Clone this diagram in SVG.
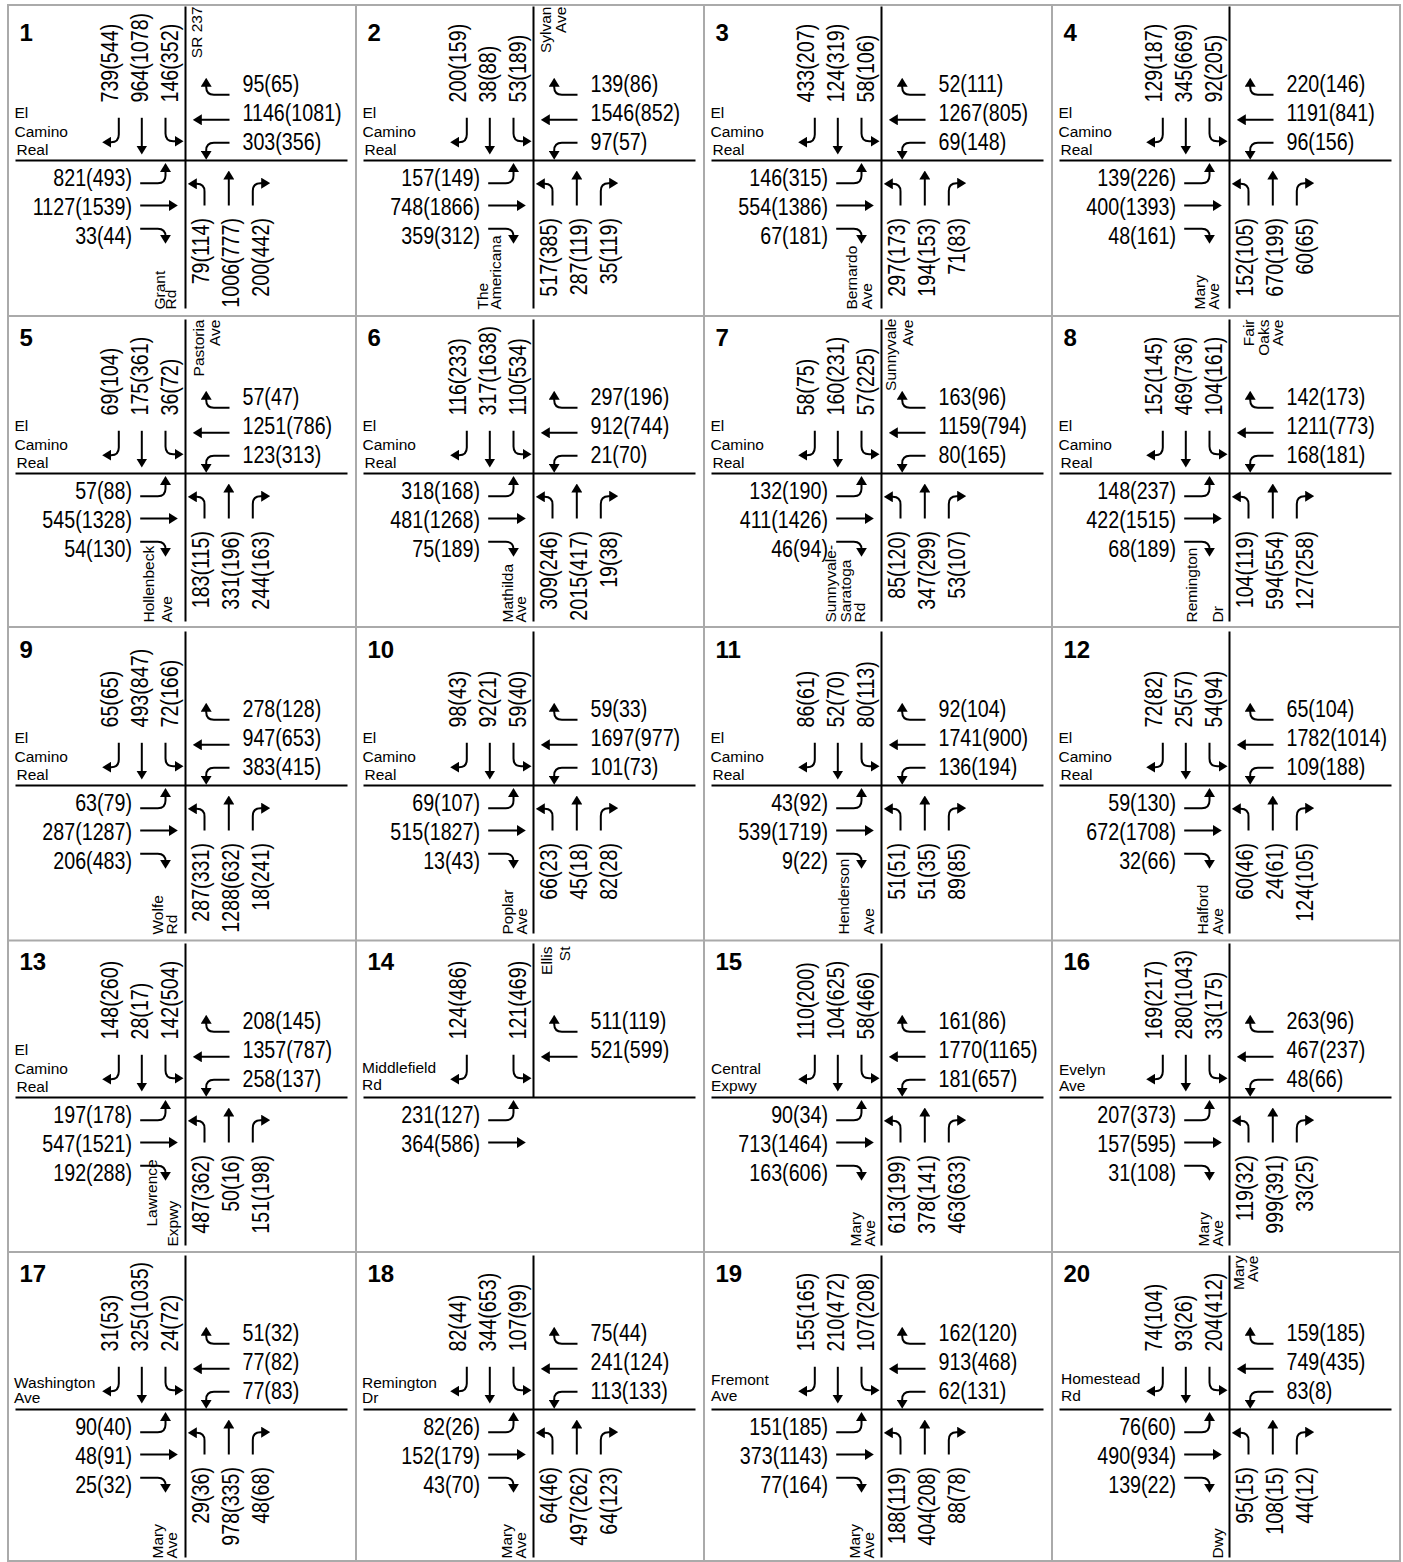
<svg xmlns="http://www.w3.org/2000/svg" width="1403" height="1562" viewBox="0 0 1403 1562">
<style>
text{font-family:"Liberation Sans",Arial,sans-serif;fill:#000}
.q{font-size:24px}
.e{text-anchor:end}
.s{font-size:15.5px}
.n{font-size:24px;font-weight:bold}
.r{fill:none;stroke:#000;stroke-width:2}
.a{fill:none;stroke:#000;stroke-width:2;marker-end:url(#ah)}
.g{fill:none;stroke:#aaa;stroke-width:2}
</style>
<defs>
<marker id="ah" viewBox="0 0 9 11" refX="6" refY="5.5" markerWidth="9" markerHeight="11" markerUnits="userSpaceOnUse" orient="auto"><path d="M0,0L9,5.5L0,11z" fill="#000"/></marker>
<g id="full">
<path class="r" d="M0,-154V148M-170,0H162"/>
<path id="sR" class="a" d="M-66.7,-42.7V-26Q-66.7,-18.3-74.4,-18.3H-80.3"/>
<path id="sT" class="a" d="M-43.7,-42.7V-9"/>
<path id="sL" class="a" d="M-20,-42.7V-27Q-20,-19.3-12.3,-19.3H-5"/>
<path id="wR" class="a" d="M44,-65.7H28.4Q20.7,-65.7 20.7,-73.4V-79.7"/>
<path id="wT" class="a" d="M44,-40.7H10.3"/>
<path id="wL" class="a" d="M44,-17.7H28.4Q20.7,-17.7 20.7,-10V-3.7"/>
<path id="eL" class="a" d="M-45.3,22.7H-27.7Q-20,22.7-20,15V5.5"/>
<path id="eT" class="a" d="M-45.3,45H-10.7"/>
<path id="eR" class="a" d="M-45.3,68.3H-27.7Q-20,68.3-20,76V80.3"/>
<path id="nL" class="a" d="M19,45V31Q19,23.3 11.3,23.3H5.3"/>
<path id="nT" class="a" d="M43.3,45V13"/>
<path id="nR" class="a" d="M67.3,45V30.4Q67.3,22.7 75,22.7H81.7"/>
</g>
<g id="ecr" class="s"><text x="-171" y="-42.5">El</text><text x="-171" y="-24">Camino</text><text x="-169" y="-5.5">Real</text></g>
</defs>
<path class="g" d="M8,5H1400V1561H8ZM356,5V1561M704,5V1561M1052,5V1561M8,316H1400M8,627H1400M8,940.5H1400M8,1252H1400"/>

<g id="p1" transform="translate(185.5,160.5)"><use href="#full"/><use href="#ecr"/><text class="n" x="-166" y="-120">1</text>
<g class="q" transform="rotate(-90) scale(.82,1)"><text x="70.7" y="-67.5">739(544)</text><text x="70.7" y="-37.5">964(1078)</text><text x="70.7" y="-8">146(352)</text><text class="e" x="-70.1" y="23.7">79(114)</text><text class="e" x="-70.1" y="54">1006(777)</text><text class="e" x="-70.1" y="83.3">200(442)</text></g>
<g class="q" transform="scale(.82,1)"><text x="69.5" y="-68.5">95(65)</text><text x="69.5" y="-39.5">1146(1081)</text><text x="69.5" y="-10.5">303(356)</text><text class="e" x="-65.2" y="26">821(493)</text><text class="e" x="-65.2" y="55">1127(1539)</text><text class="e" x="-65.2" y="84">33(44)</text></g>
<g class="s" transform="rotate(-90)"><text class="e" x="154" y="16.2">SR 237</text><text x="-149" y="-20.5">Grant</text><text x="-149" y="-10">Rd</text></g></g>

<g id="p2" transform="translate(533.5,160.5)"><use href="#full"/><use href="#ecr"/><text class="n" x="-166" y="-120">2</text>
<g class="q" transform="rotate(-90) scale(.82,1)"><text x="70.7" y="-67.5">200(159)</text><text x="70.7" y="-37.5">38(88)</text><text x="70.7" y="-8">53(189)</text><text class="e" x="-70.1" y="23.7">517(385)</text><text class="e" x="-70.1" y="54">287(119)</text><text class="e" x="-70.1" y="83.3">35(119)</text></g>
<g class="q" transform="scale(.82,1)"><text x="69.5" y="-68.5">139(86)</text><text x="69.5" y="-39.5">1546(852)</text><text x="69.5" y="-10.5">97(57)</text><text class="e" x="-65.2" y="26">157(149)</text><text class="e" x="-65.2" y="55">748(1866)</text><text class="e" x="-65.2" y="84">359(312)</text></g>
<g class="s" transform="rotate(-90)"><text class="e" x="154" y="17">Sylvan</text><text class="e" x="154" y="32">Ave</text><text x="-149" y="-46">The</text><text x="-149" y="-32.5">Americana</text></g></g>

<g id="p3" transform="translate(881.5,160.5)"><use href="#full"/><use href="#ecr"/><text class="n" x="-166" y="-120">3</text>
<g class="q" transform="rotate(-90) scale(.82,1)"><text x="70.7" y="-67.5">433(207)</text><text x="70.7" y="-37.5">124(319)</text><text x="70.7" y="-8">58(106)</text><text class="e" x="-70.1" y="23.7">297(173)</text><text class="e" x="-70.1" y="54">194(153)</text><text class="e" x="-70.1" y="83.3">71(83)</text></g>
<g class="q" transform="scale(.82,1)"><text x="69.5" y="-68.5">52(111)</text><text x="69.5" y="-39.5">1267(805)</text><text x="69.5" y="-10.5">69(148)</text><text class="e" x="-65.2" y="26">146(315)</text><text class="e" x="-65.2" y="55">554(1386)</text><text class="e" x="-65.2" y="84">67(181)</text></g>
<g class="s" transform="rotate(-90)"><text x="-149" y="-24.5">Bernardo</text><text x="-149" y="-9.5">Ave</text></g></g>

<g id="p4" transform="translate(1229.5,160.5)"><use href="#full"/><use href="#ecr"/><text class="n" x="-166" y="-120">4</text>
<g class="q" transform="rotate(-90) scale(.82,1)"><text x="70.7" y="-67.5">129(187)</text><text x="70.7" y="-37.5">345(669)</text><text x="70.7" y="-8">92(205)</text><text class="e" x="-70.1" y="23.7">152(105)</text><text class="e" x="-70.1" y="54">670(199)</text><text class="e" x="-70.1" y="83.3">60(65)</text></g>
<g class="q" transform="scale(.82,1)"><text x="69.5" y="-68.5">220(146)</text><text x="69.5" y="-39.5">1191(841)</text><text x="69.5" y="-10.5">96(156)</text><text class="e" x="-65.2" y="26">139(226)</text><text class="e" x="-65.2" y="55">400(1393)</text><text class="e" x="-65.2" y="84">48(161)</text></g>
<g class="s" transform="rotate(-90)"><text x="-149" y="-24.5">Mary</text><text x="-149" y="-10.5">Ave</text></g></g>

<g id="p5" transform="translate(185.5,473.5)"><use href="#full"/><use href="#ecr"/><text class="n" x="-166" y="-128">5</text>
<g class="q" transform="rotate(-90) scale(.82,1)"><text x="70.7" y="-67.5">69(104)</text><text x="70.7" y="-37.5">175(361)</text><text x="70.7" y="-8">36(72)</text><text class="e" x="-70.1" y="23.7">183(115)</text><text class="e" x="-70.1" y="54">331(196)</text><text class="e" x="-70.1" y="83.3">244(163)</text></g>
<g class="q" transform="scale(.82,1)"><text x="69.5" y="-68.5">57(47)</text><text x="69.5" y="-39.5">1251(786)</text><text x="69.5" y="-10.5">123(313)</text><text class="e" x="-65.2" y="26">57(88)</text><text class="e" x="-65.2" y="55">545(1328)</text><text class="e" x="-65.2" y="84">54(130)</text></g>
<g class="s" transform="rotate(-90)"><text class="e" x="154" y="18.5">Pastoria</text><text class="e" x="154" y="34">Ave</text><text x="-149" y="-31.5">Hollenbeck</text><text x="-149" y="-13.5">Ave</text></g></g>

<g id="p6" transform="translate(533.5,473.5)"><use href="#full"/><use href="#ecr"/><text class="n" x="-166" y="-128">6</text>
<g class="q" transform="rotate(-90) scale(.82,1)"><text x="70.7" y="-67.5">116(233)</text><text x="70.7" y="-37.5">317(1638)</text><text x="70.7" y="-8">110(534)</text><text class="e" x="-70.1" y="23.7">309(246)</text><text class="e" x="-70.1" y="54">2015(417)</text><text class="e" x="-70.1" y="83.3">19(38)</text></g>
<g class="q" transform="scale(.82,1)"><text x="69.5" y="-68.5">297(196)</text><text x="69.5" y="-39.5">912(744)</text><text x="69.5" y="-10.5">21(70)</text><text class="e" x="-65.2" y="26">318(168)</text><text class="e" x="-65.2" y="55">481(1268)</text><text class="e" x="-65.2" y="84">75(189)</text></g>
<g class="s" transform="rotate(-90)"><text x="-149" y="-20.5">Mathilda</text><text x="-149" y="-7.5">Ave</text></g></g>

<g id="p7" transform="translate(881.5,473.5)"><use href="#full"/><use href="#ecr"/><text class="n" x="-166" y="-128">7</text>
<g class="q" transform="rotate(-90) scale(.82,1)"><text x="70.7" y="-67.5">58(75)</text><text x="70.7" y="-37.5">160(231)</text><text x="70.7" y="-8">57(225)</text><text class="e" x="-70.1" y="23.7">85(120)</text><text class="e" x="-70.1" y="54">347(299)</text><text class="e" x="-70.1" y="83.3">53(107)</text></g>
<g class="q" transform="scale(.82,1)"><text x="69.5" y="-68.5">163(96)</text><text x="69.5" y="-39.5">1159(794)</text><text x="69.5" y="-10.5">80(165)</text><text class="e" x="-65.2" y="26">132(190)</text><text class="e" x="-65.2" y="55">411(1426)</text><text class="e" x="-65.2" y="84">46(94)</text></g>
<g class="s" transform="rotate(-90)"><text class="e" x="155" y="14.5">Sunnyvale</text><text class="e" x="154" y="31.5">Ave</text><text x="-149" y="-45.5">Sunnyvale-</text><text x="-149" y="-30.5">Saratoga</text><text x="-149" y="-16.5">Rd</text></g></g>

<g id="p8" transform="translate(1229.5,473.5)"><use href="#full"/><use href="#ecr"/><text class="n" x="-166" y="-128">8</text>
<g class="q" transform="rotate(-90) scale(.82,1)"><text x="70.7" y="-67.5">152(145)</text><text x="70.7" y="-37.5">469(736)</text><text x="70.7" y="-8">104(161)</text><text class="e" x="-70.1" y="23.7">104(119)</text><text class="e" x="-70.1" y="54">594(554)</text><text class="e" x="-70.1" y="83.3">127(258)</text></g>
<g class="q" transform="scale(.82,1)"><text x="69.5" y="-68.5">142(173)</text><text x="69.5" y="-39.5">1211(773)</text><text x="69.5" y="-10.5">168(181)</text><text class="e" x="-65.2" y="26">148(237)</text><text class="e" x="-65.2" y="55">422(1515)</text><text class="e" x="-65.2" y="84">68(189)</text></g>
<g class="s" transform="rotate(-90)"><text class="e" x="154" y="24">Fair</text><text class="e" x="154" y="39">Oaks</text><text class="e" x="154" y="53">Ave</text><text x="-149" y="-32.5">Remington</text><text x="-149" y="-6.5">Dr</text></g></g>

<g id="p9" transform="translate(185.5,785.5)"><use href="#full"/><use href="#ecr"/><text class="n" x="-166" y="-128">9</text>
<g class="q" transform="rotate(-90) scale(.82,1)"><text x="70.7" y="-67.5">65(65)</text><text x="70.7" y="-37.5">493(847)</text><text x="70.7" y="-8">72(166)</text><text class="e" x="-70.1" y="23.7">287(331)</text><text class="e" x="-70.1" y="54">1288(632)</text><text class="e" x="-70.1" y="83.3">18(241)</text></g>
<g class="q" transform="scale(.82,1)"><text x="69.5" y="-68.5">278(128)</text><text x="69.5" y="-39.5">947(653)</text><text x="69.5" y="-10.5">383(415)</text><text class="e" x="-65.2" y="26">63(79)</text><text class="e" x="-65.2" y="55">287(1287)</text><text class="e" x="-65.2" y="84">206(483)</text></g>
<g class="s" transform="rotate(-90)"><text x="-149" y="-22.5">Wolfe</text><text x="-149" y="-8.5">Rd</text></g></g>

<g id="p10" transform="translate(533.5,785.5)"><use href="#full"/><use href="#ecr"/><text class="n" x="-166" y="-128">10</text>
<g class="q" transform="rotate(-90) scale(.82,1)"><text x="70.7" y="-67.5">98(43)</text><text x="70.7" y="-37.5">92(21)</text><text x="70.7" y="-8">59(40)</text><text class="e" x="-70.1" y="23.7">66(23)</text><text class="e" x="-70.1" y="54">45(18)</text><text class="e" x="-70.1" y="83.3">82(28)</text></g>
<g class="q" transform="scale(.82,1)"><text x="69.5" y="-68.5">59(33)</text><text x="69.5" y="-39.5">1697(977)</text><text x="69.5" y="-10.5">101(73)</text><text class="e" x="-65.2" y="26">69(107)</text><text class="e" x="-65.2" y="55">515(1827)</text><text class="e" x="-65.2" y="84">13(43)</text></g>
<g class="s" transform="rotate(-90)"><text x="-149" y="-20.5">Poplar</text><text x="-149" y="-6.5">Ave</text></g></g>

<g id="p11" transform="translate(881.5,785.5)"><use href="#full"/><use href="#ecr"/><text class="n" x="-166" y="-128">11</text>
<g class="q" transform="rotate(-90) scale(.82,1)"><text x="70.7" y="-67.5">86(61)</text><text x="70.7" y="-37.5">52(70)</text><text x="70.7" y="-8">80(113)</text><text class="e" x="-70.1" y="23.7">51(51)</text><text class="e" x="-70.1" y="54">51(35)</text><text class="e" x="-70.1" y="83.3">89(85)</text></g>
<g class="q" transform="scale(.82,1)"><text x="69.5" y="-68.5">92(104)</text><text x="69.5" y="-39.5">1741(900)</text><text x="69.5" y="-10.5">136(194)</text><text class="e" x="-65.2" y="26">43(92)</text><text class="e" x="-65.2" y="55">539(1719)</text><text class="e" x="-65.2" y="84">9(22)</text></g>
<g class="s" transform="rotate(-90)"><text x="-149" y="-33">Henderson</text><text x="-149" y="-8">Ave</text></g></g>

<g id="p12" transform="translate(1229.5,785.5)"><use href="#full"/><use href="#ecr"/><text class="n" x="-166" y="-128">12</text>
<g class="q" transform="rotate(-90) scale(.82,1)"><text x="70.7" y="-67.5">72(82)</text><text x="70.7" y="-37.5">25(57)</text><text x="70.7" y="-8">54(94)</text><text class="e" x="-70.1" y="23.7">60(46)</text><text class="e" x="-70.1" y="54">24(61)</text><text class="e" x="-70.1" y="83.3">124(105)</text></g>
<g class="q" transform="scale(.82,1)"><text x="69.5" y="-68.5">65(104)</text><text x="69.5" y="-39.5">1782(1014)</text><text x="69.5" y="-10.5">109(188)</text><text class="e" x="-65.2" y="26">59(130)</text><text class="e" x="-65.2" y="55">672(1708)</text><text class="e" x="-65.2" y="84">32(66)</text></g>
<g class="s" transform="rotate(-90)"><text x="-149" y="-21.5">Halford</text><text x="-149" y="-6.5">Ave</text></g></g>

<g id="p13" transform="translate(185.5,1097.5)"><use href="#full"/><use href="#ecr"/><text class="n" x="-166" y="-128">13</text>
<g class="q" transform="rotate(-90) scale(.82,1)"><text x="70.7" y="-67.5">148(260)</text><text x="70.7" y="-37.5">28(17)</text><text x="70.7" y="-8">142(504)</text><text class="e" x="-70.1" y="23.7">487(362)</text><text class="e" x="-70.1" y="54">50(16)</text><text class="e" x="-70.1" y="83.3">151(198)</text></g>
<g class="q" transform="scale(.82,1)"><text x="69.5" y="-68.5">208(145)</text><text x="69.5" y="-39.5">1357(787)</text><text x="69.5" y="-10.5">258(137)</text><text class="e" x="-65.2" y="26">197(178)</text><text class="e" x="-65.2" y="55">547(1521)</text><text class="e" x="-65.2" y="84">192(288)</text></g>
<g class="s" transform="rotate(-90)"><text x="-129" y="-29">Lawrence</text><text x="-149" y="-8">Expwy</text></g></g>

<g id="p14" transform="translate(533.5,1097.5)"><path class="r" d="M0,-154V0M-170,0H162"/><use href="#sR"/><use href="#sL"/><use href="#wR"/><use href="#wT"/><use href="#eL"/><use href="#eT"/><text class="n" x="-166" y="-128">14</text>
<g class="q" transform="rotate(-90) scale(.82,1)"><text x="70.7" y="-67.5">124(486)</text><text x="70.7" y="-8">121(469)</text></g>
<g class="q" transform="scale(.82,1)"><text x="69.5" y="-68.5">511(119)</text><text x="69.5" y="-39.5">521(599)</text><text class="e" x="-65.2" y="26">231(127)</text><text class="e" x="-65.2" y="55">364(586)</text></g>
<g class="s"><text x="-171.5" y="-25">Middlefield</text><text x="-171.5" y="-7.5">Rd</text></g>
<g class="s" transform="rotate(-90)"><text class="e" x="151" y="18.3">Ellis</text><text class="e" x="151" y="36.6">St</text></g></g>

<g id="p15" transform="translate(881.5,1097.5)"><use href="#full"/><text class="n" x="-166" y="-128">15</text>
<g class="q" transform="rotate(-90) scale(.82,1)"><text x="70.7" y="-67.5">110(200)</text><text x="70.7" y="-37.5">104(625)</text><text x="70.7" y="-8">58(466)</text><text class="e" x="-70.1" y="23.7">613(199)</text><text class="e" x="-70.1" y="54">378(141)</text><text class="e" x="-70.1" y="83.3">463(633)</text></g>
<g class="q" transform="scale(.82,1)"><text x="69.5" y="-68.5">161(86)</text><text x="69.5" y="-39.5">1770(1165)</text><text x="69.5" y="-10.5">181(657)</text><text class="e" x="-65.2" y="26">90(34)</text><text class="e" x="-65.2" y="55">713(1464)</text><text class="e" x="-65.2" y="84">163(606)</text></g>
<g class="s"><text x="-170.5" y="-24">Central</text><text x="-170.5" y="-7">Expwy</text></g>
<g class="s" transform="rotate(-90)"><text x="-149" y="-20.5">Mary</text><text x="-149" y="-6.5">Ave</text></g></g>

<g id="p16" transform="translate(1229.5,1097.5)"><use href="#full"/><text class="n" x="-166" y="-128">16</text>
<g class="q" transform="rotate(-90) scale(.82,1)"><text x="70.7" y="-67.5">169(217)</text><text x="70.7" y="-37.5">280(1043)</text><text x="70.7" y="-8">33(175)</text><text class="e" x="-70.1" y="23.7">119(32)</text><text class="e" x="-70.1" y="54">999(391)</text><text class="e" x="-70.1" y="83.3">33(25)</text></g>
<g class="q" transform="scale(.82,1)"><text x="69.5" y="-68.5">263(96)</text><text x="69.5" y="-39.5">467(237)</text><text x="69.5" y="-10.5">48(66)</text><text class="e" x="-65.2" y="26">207(373)</text><text class="e" x="-65.2" y="55">157(595)</text><text class="e" x="-65.2" y="84">31(108)</text></g>
<g class="s"><text x="-170.5" y="-22.5">Evelyn</text><text x="-170.5" y="-6.5">Ave</text></g>
<g class="s" transform="rotate(-90)"><text x="-149" y="-20.5">Mary</text><text x="-149" y="-6.5">Ave</text></g></g>

<g id="p17" transform="translate(185.5,1409.5)"><use href="#full"/><text class="n" x="-166" y="-128">17</text>
<g class="q" transform="rotate(-90) scale(.82,1)"><text x="70.7" y="-67.5">31(53)</text><text x="70.7" y="-37.5">325(1035)</text><text x="70.7" y="-8">24(72)</text><text class="e" x="-70.1" y="23.7">29(36)</text><text class="e" x="-70.1" y="54">978(335)</text><text class="e" x="-70.1" y="83.3">48(68)</text></g>
<g class="q" transform="scale(.82,1)"><text x="69.5" y="-68.5">51(32)</text><text x="69.5" y="-39.5">77(82)</text><text x="69.5" y="-10.5">77(83)</text><text class="e" x="-65.2" y="26">90(40)</text><text class="e" x="-65.2" y="55">48(91)</text><text class="e" x="-65.2" y="84">25(32)</text></g>
<g class="s"><text x="-171.5" y="-21.5">Washington</text><text x="-171.5" y="-6.5">Ave</text></g>
<g class="s" transform="rotate(-90)"><text x="-149" y="-22.5">Mary</text><text x="-149" y="-8.5">Ave</text></g></g>

<g id="p18" transform="translate(533.5,1409.5)"><use href="#full"/><text class="n" x="-166" y="-128">18</text>
<g class="q" transform="rotate(-90) scale(.82,1)"><text x="70.7" y="-67.5">82(44)</text><text x="70.7" y="-37.5">344(653)</text><text x="70.7" y="-8">107(99)</text><text class="e" x="-70.1" y="23.7">64(46)</text><text class="e" x="-70.1" y="54">497(262)</text><text class="e" x="-70.1" y="83.3">64(123)</text></g>
<g class="q" transform="scale(.82,1)"><text x="69.5" y="-68.5">75(44)</text><text x="69.5" y="-39.5">241(124)</text><text x="69.5" y="-10.5">113(133)</text><text class="e" x="-65.2" y="26">82(26)</text><text class="e" x="-65.2" y="55">152(179)</text><text class="e" x="-65.2" y="84">43(70)</text></g>
<g class="s"><text x="-171.5" y="-21.5">Remington</text><text x="-171.5" y="-6.5">Dr</text></g>
<g class="s" transform="rotate(-90)"><text x="-149" y="-21.5">Mary</text><text x="-149" y="-7.5">Ave</text></g></g>

<g id="p19" transform="translate(881.5,1409.5)"><use href="#full"/><text class="n" x="-166" y="-128">19</text>
<g class="q" transform="rotate(-90) scale(.82,1)"><text x="70.7" y="-67.5">155(165)</text><text x="70.7" y="-37.5">210(472)</text><text x="70.7" y="-8">107(208)</text><text class="e" x="-70.1" y="23.7">188(119)</text><text class="e" x="-70.1" y="54">404(208)</text><text class="e" x="-70.1" y="83.3">88(78)</text></g>
<g class="q" transform="scale(.82,1)"><text x="69.5" y="-68.5">162(120)</text><text x="69.5" y="-39.5">913(468)</text><text x="69.5" y="-10.5">62(131)</text><text class="e" x="-65.2" y="26">151(185)</text><text class="e" x="-65.2" y="55">373(1143)</text><text class="e" x="-65.2" y="84">77(164)</text></g>
<g class="s"><text x="-170.5" y="-24.5">Fremont</text><text x="-170.5" y="-8.5">Ave</text></g>
<g class="s" transform="rotate(-90)"><text x="-149" y="-21.5">Mary</text><text x="-149" y="-7.5">Ave</text></g></g>

<g id="p20" transform="translate(1229.5,1409.5)"><use href="#full"/><text class="n" x="-166" y="-128">20</text>
<g class="q" transform="rotate(-90) scale(.82,1)"><text x="70.7" y="-67.5">74(104)</text><text x="70.7" y="-37.5">93(26)</text><text x="70.7" y="-8">204(412)</text><text class="e" x="-70.1" y="23.7">95(15)</text><text class="e" x="-70.1" y="54">108(15)</text><text class="e" x="-70.1" y="83.3">44(12)</text></g>
<g class="q" transform="scale(.82,1)"><text x="69.5" y="-68.5">159(185)</text><text x="69.5" y="-39.5">749(435)</text><text x="69.5" y="-10.5">83(8)</text><text class="e" x="-65.2" y="26">76(60)</text><text class="e" x="-65.2" y="55">490(934)</text><text class="e" x="-65.2" y="84">139(22)</text></g>
<g class="s"><text x="-168.5" y="-25.5">Homestead</text><text x="-168.5" y="-8.5">Rd</text></g>
<g class="s" transform="rotate(-90)"><text class="e" x="154" y="14.5">Mary</text><text class="e" x="154" y="28">Ave</text><text x="-149" y="-6.5">Dwy</text></g></g>
</svg>
